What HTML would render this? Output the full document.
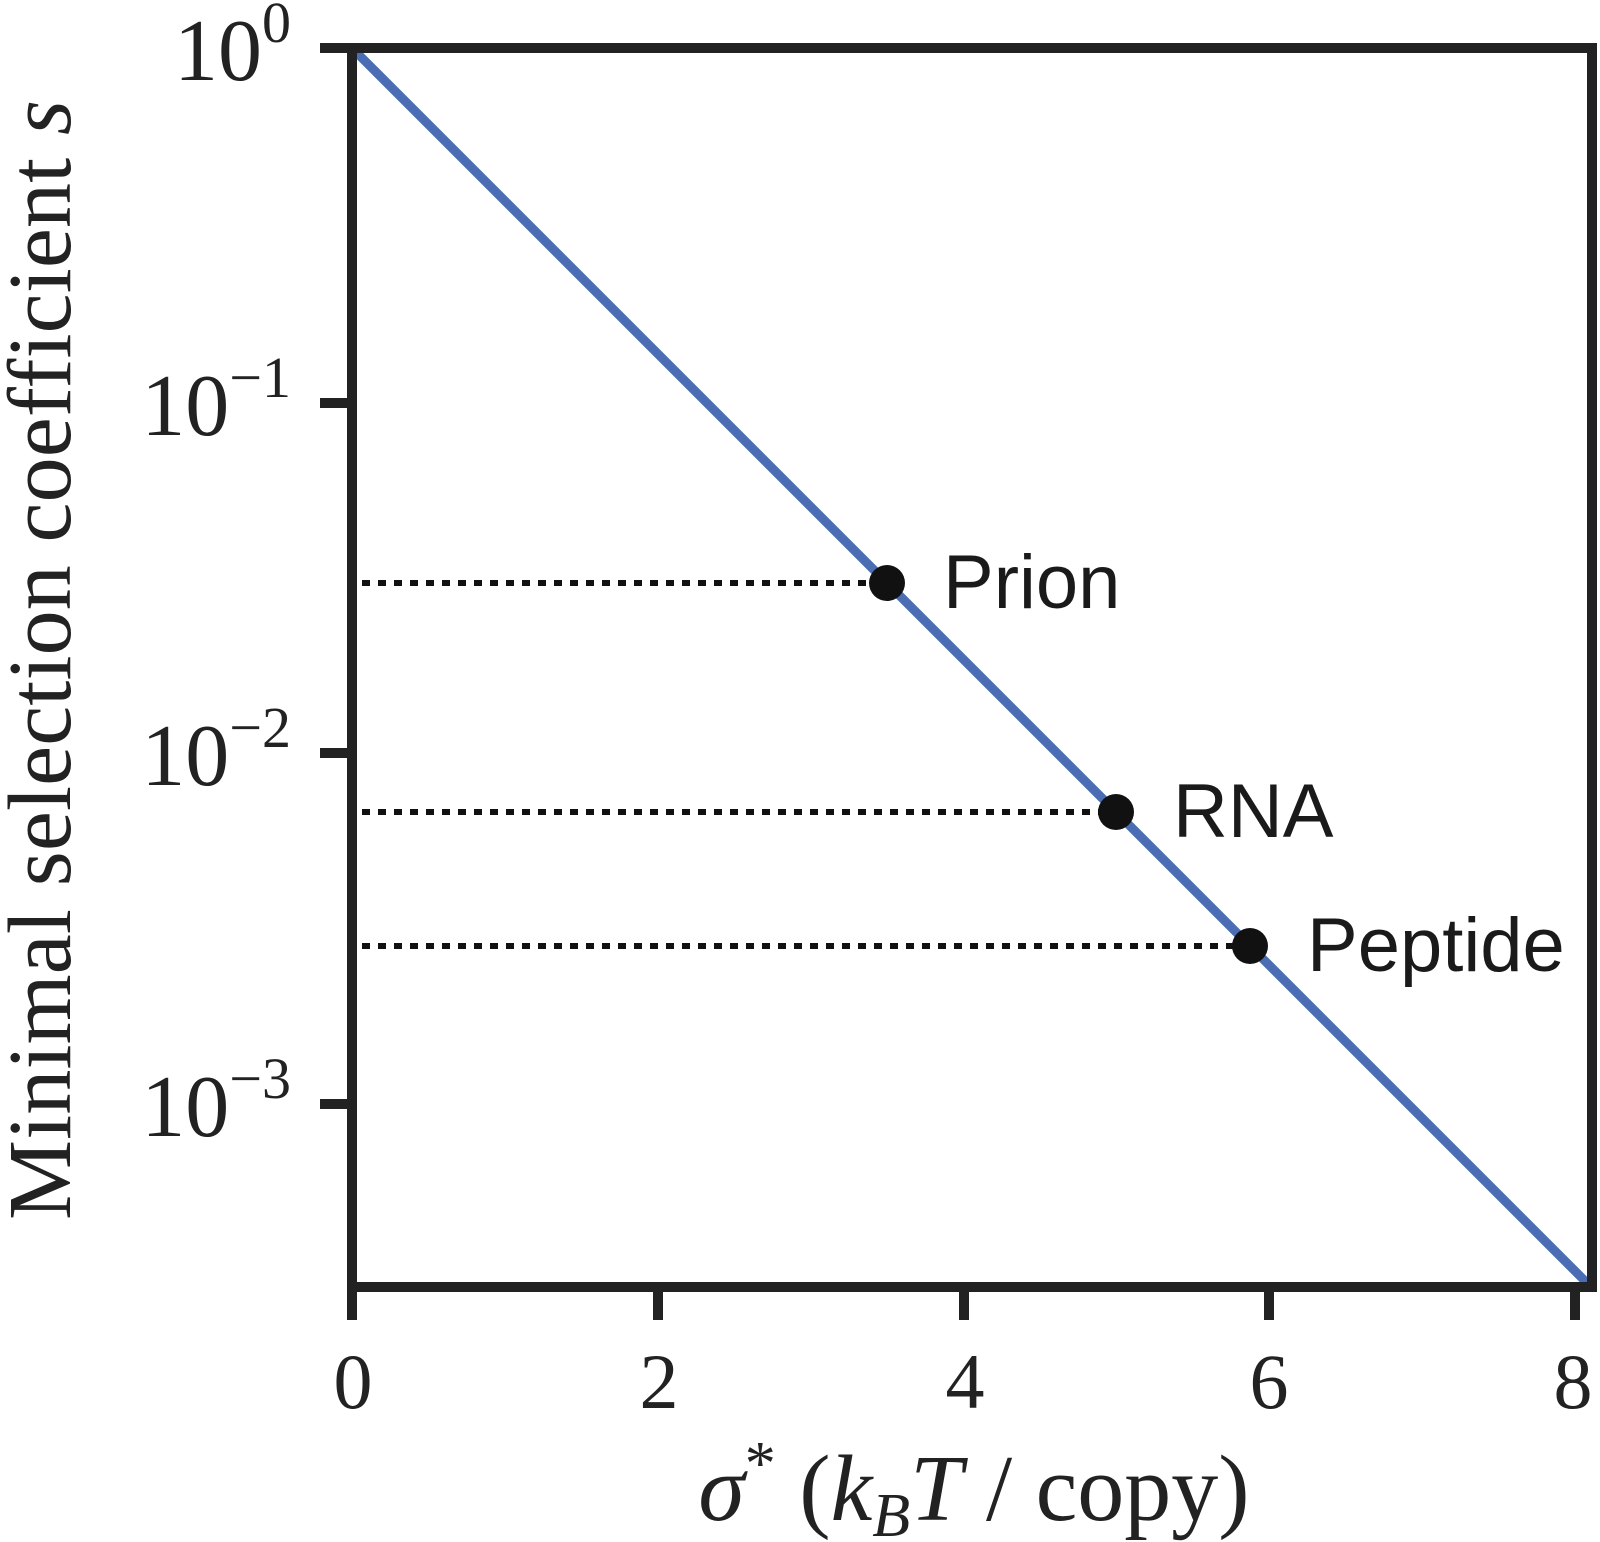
<!DOCTYPE html>
<html><head><meta charset="utf-8"><style>
html,body{margin:0;padding:0;background:#fff;}
svg{display:block;}
.s{font-family:"Liberation Serif",serif;fill:#222;}
.a{font-family:"Liberation Sans",sans-serif;fill:#1a1a1a;font-size:76px;}
</style></head><body>
<svg width="1600" height="1542" viewBox="0 0 1600 1542">
<g stroke="#111" stroke-width="6" stroke-dasharray="8 8">
<line x1="362" y1="583" x2="887" y2="583"/>
<line x1="362" y1="812" x2="1116" y2="812"/>
<line x1="362" y1="946" x2="1250" y2="946"/>
</g>
<line x1="352" y1="48" x2="1587" y2="1283" stroke="#4a6db3" stroke-width="9"/>
<rect x="352" y="48" width="1240" height="1239" fill="none" stroke="#222" stroke-width="10"/>
<g stroke="#222" stroke-width="10">
<line x1="320" y1="48" x2="352" y2="48"/>
<line x1="320" y1="403" x2="352" y2="403"/>
<line x1="320" y1="753" x2="352" y2="753"/>
<line x1="320" y1="1104" x2="352" y2="1104"/>
<line x1="352" y1="1287" x2="352" y2="1320"/>
<line x1="658" y1="1287" x2="658" y2="1320"/>
<line x1="964" y1="1287" x2="964" y2="1320"/>
<line x1="1269" y1="1287" x2="1269" y2="1320"/>
<line x1="1575" y1="1287" x2="1575" y2="1320"/>
</g>
<g fill="#111">
<circle cx="887" cy="583" r="18"/>
<circle cx="1116" cy="812" r="18"/>
<circle cx="1250" cy="946" r="18"/>
</g>
<text class="a" x="943" y="608">Prion</text>
<text class="a" x="1173" y="837">RNA</text>
<text class="a" x="1307" y="971">Peptide</text>
<g class="s" font-size="78" text-anchor="middle">
<text x="353" y="1408">0</text>
<text x="659" y="1408">2</text>
<text x="965" y="1408">4</text>
<text x="1269" y="1408">6</text>
<text x="1573" y="1408">8</text>
</g>
<g class="s" font-size="88" text-anchor="end">
<text x="291" y="80">10<tspan font-size="58" dy="-38">0</tspan></text>
<text x="291" y="435">10<tspan font-size="58" dy="-38">−1</tspan></text>
<text x="291" y="785">10<tspan font-size="58" dy="-38">−2</tspan></text>
<text x="291" y="1136">10<tspan font-size="58" dy="-38">−3</tspan></text>
</g>
<text class="s" font-size="94" text-anchor="middle" x="974" y="1520"><tspan font-style="italic">σ</tspan><tspan font-size="62" dy="-36">*</tspan><tspan dy="36"> (</tspan><tspan font-style="italic">k</tspan><tspan font-style="italic" font-size="62" dy="16">B</tspan><tspan font-style="italic" dy="-16">T</tspan> / copy)</text>
<text class="s" font-size="90" text-anchor="middle" transform="translate(70,660) rotate(-90)" textLength="1120">Minimal selection coefficient <tspan font-style="italic">s</tspan></text>
</svg>
</body></html>
